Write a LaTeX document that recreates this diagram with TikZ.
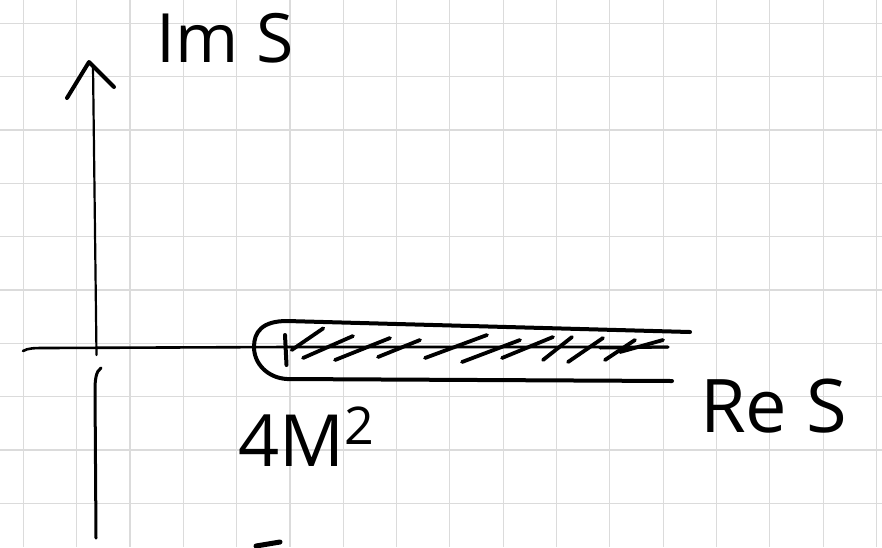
\documentclass[tikz,border=0pt]{standalone}
\usepackage{fontspec}
\setmainfont{Open Sans}
\begin{document}
\begin{tikzpicture}[x=1pt,y=-1pt,
  gridline/.style={draw=black!14,line width=1.1pt},
  thinink/.style={draw=black,line width=2.2pt,line cap=round,line join=round},
  thickink/.style={draw=black,line width=4pt,line cap=round,line join=round},
  lbl/.style={inner sep=0pt,font=\fontsize{68}{72}\selectfont}]
\useasboundingbox (0,0) rectangle (882,547);
\fill[white] (0,0) rectangle (882,547);
% grid
\foreach \k in {0,...,16}{
  \draw[gridline] ({23.3+53.33*\k},0) -- ({23.3+53.33*\k},547);
}
\foreach \k in {0,...,9}{
  \draw[gridline] (0,{23.3+53.33*\k}) -- (882,{23.3+53.33*\k});
}
% coordinates
\coordinate (tip) at (89,62);
\coordinate (vtop) at (93,66);
\coordinate (vmid) at (96.5,355);
\coordinate (vlow) at (101,368);
\coordinate (vbot) at (96,538);
\coordinate (hleft) at (23,351);
\coordinate (hright) at (668,347);
\coordinate (bp) at (286,347);
% vertical axis
\draw[thinink] (vtop) -- (vmid);
\draw[thinink,line width=3pt] (vlow) .. controls (96,371) and (95,380) .. (95,390) -- (vbot);
\draw[thickink] (67,98) -- (tip) -- (114,87);
% horizontal axis
\draw[thinink,line width=2.6pt] (hleft) .. controls (28,348) and (35,348) .. (45,348) -- (bp) -- (hright);
\draw[thickink,line width=3pt] (600,348) -- (hright);
% contour around the cut
\draw[thickink] (690,332) -- (287,321)
  .. controls (262,321) and (254,332) .. (254,347)
  .. controls (254,364) and (268,378) .. (287,379) -- (672,381);
% branch point tick
\draw[thickink] (285,335) -- (286.5,365);
% hatching of the cut
\foreach \a/\b/\c/\d in {291.7/350/323.3/328.3, 303/358/353/336, 335/360/390/338,
  378/357/420/340, 425/358/487/335, 462/362/520/340, 502/358/553/337,
  543/360/572/337, 568/362/603/338, 605/360/635/340, 620/352/663/340}{
  \draw[thickink,line width=3.8pt] (\a,\b) -- (\c,\d);
}
% stroke at the bottom edge
\draw[thickink,line width=5pt] (256,546) -- (280,542);
% labels
\node[lbl,anchor=base west] (im) at (156,62) {Im S};
\node[lbl,anchor=base west,font=\fontsize{74}{78}\selectfont] (re) at (700,432) {Re S};
\node[lbl,anchor=base west,font=\fontsize{72}{76}\selectfont] (m2) at (238,466) {4M\raisebox{0.3em}{\fontsize{52}{56}\selectfont 2}};
\end{tikzpicture}
\end{document}
